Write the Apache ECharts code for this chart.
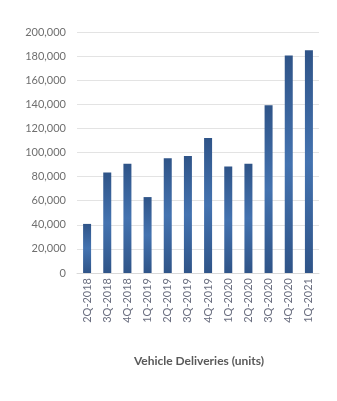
<!DOCTYPE html>
<html><head><meta charset="utf-8">
<script src="https://cdn.jsdelivr.net/npm/echarts@6/dist/echarts.min.js"></script>
<style>html,body{margin:0;padding:0;background:#fff}#c{width:337px;height:401px}</style>
</head><body><div id="c"></div>
<script>
const categories = ['2Q-2018','3Q-2018','4Q-2018','1Q-2019','2Q-2019','3Q-2019','4Q-2019','1Q-2020','2Q-2020','3Q-2020','4Q-2020','1Q-2021'];
const deliveries = [40740, 83500, 90700, 63000, 95200, 97000, 112000, 88400, 90650, 139300, 180570, 184800];
const yTicks = {min: 0, max: 200000, interval: 20000};
const title = 'Vehicle Deliveries (units)';

const chart = echarts.init(document.getElementById('c'), null, {renderer: 'canvas'});
chart.setOption({
  animation: false,
  backgroundColor: '#fff',
  title: {
    text: title, left: 194, top: 350, textAlign: 'center',
    textStyle: {fontFamily: 'Lato', fontSize: 12, fontWeight: 'bold', color: '#595959'}
  },
  grid: {left: 77, right: 18, top: 32, bottom: 128, containLabel: false},
  xAxis: {
    type: 'category', data: categories,
    axisLine: {show: true, lineStyle: {color: '#d9d9d9', width: 1}},
    axisTick: {show: false},
    axisLabel: {rotate: 90, interval: 0, margin: 5, color: '#6b6f80', fontFamily: 'Lato', fontSize: 11}
  },
  yAxis: {
    type: 'value', min: yTicks.min, max: yTicks.max, interval: yTicks.interval,
    axisLine: {show: false}, axisTick: {show: false},
    splitLine: {lineStyle: {color: '#e3e3e3', width: 1}},
    axisLabel: {margin: 11, color: '#6f6f6f', fontFamily: 'Lato', fontSize: 11,
      formatter: v => v.toLocaleString('en-US')}
  },
  series: [{
    type: 'bar', data: deliveries, barWidth: 8,
    itemStyle: {
      color: new echarts.graphic.LinearGradient(0, 0, 0, 1, [
        {offset: 0, color: '#2f5488'},
        {offset: 0.5, color: '#4473b0'},
        {offset: 1, color: '#2f5488'}
      ])
    }
  }]
});
</script></body></html>
